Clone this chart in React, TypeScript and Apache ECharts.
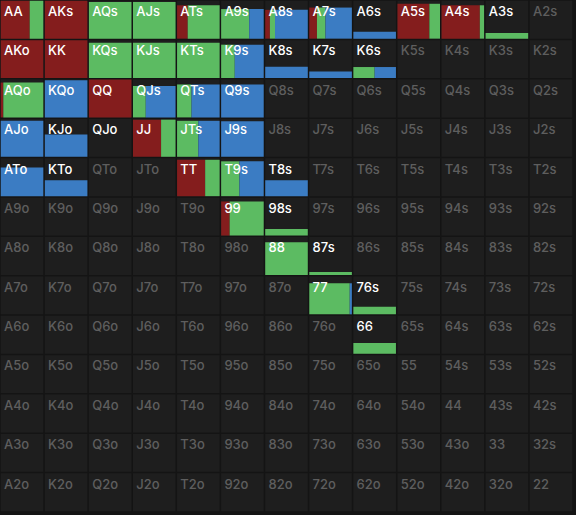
import React, { useEffect, useRef } from "react";
import * as echarts from "echarts";

const RANKS = ["A", "K", "Q", "J", "T", "9", "8", "7", "6", "5", "4", "3", "2"];

// Hands that are part of the range (white label), with their weight and action split
const rangeHands = [
  "AA", "AKs", "AQs", "AJs", "ATs", "A9s", "A8s", "A7s", "A6s", "A5s", "A4s", "A3s",
  "AKo", "KK", "KQs", "KJs", "KTs", "K9s", "K8s", "K7s", "K6s",
  "AQo", "KQo", "QQ", "QJs", "QTs", "Q9s",
  "AJo", "KJo", "QJo", "JJ", "JTs", "J9s",
  "ATo", "KTo", "TT", "T9s", "T8s",
  "99", "98s",
  "88", "87s",
  "77", "76s",
  "66",
];
const handWeight = [
  1.0, 1.0, 0.97, 0.97, 0.88, 0.78, 0.76, 0.82, 0.18, 0.92, 0.88, 0.15,
  1.0, 1.0, 0.93, 0.93, 0.93, 0.88, 0.3, 0.17, 0.29,
  0.92, 0.98, 1.0, 0.83, 0.87, 0.87,
  0.95, 0.59, 0, 0.98, 0.95, 0.94,
  0.76, 0.42, 0.96, 0.92, 0.42,
  0.9, 0.17,
  0.86, 0.08,
  0.82, 0.2,
  0.28,
];
const raiseFreq = [
  0.68, 1, 0, 0, 0.25, 0, 0.11, 0.18, 0, 0.75, 0.9, 0,
  1, 1, 0, 0, 0, 0, 0, 0, 0,
  0.06, 0, 1, 0, 0, 0,
  0, 0, 0, 0.66, 0, 0,
  0, 0, 0.66, 0, 0,
  0.2, 0,
  0, 0,
  0, 0,
  0,
];
const callFreq = [
  0.32, 0, 1, 1, 0.75, 0.66, 0.12, 0.2, 0, 0.25, 0.1, 1,
  0, 0, 1, 1, 1, 0.32, 0, 0, 0.5,
  0.94, 0, 0, 0.3, 0.34, 0,
  0, 0, 0, 0.34, 0.5, 0,
  0, 0, 0.34, 0.43, 0,
  0.8, 1,
  1, 1,
  0.95, 1,
  1,
];
const foldFreq = [
  0, 0, 0, 0, 0, 0.34, 0.77, 0.62, 1, 0, 0, 0,
  0, 0, 0, 0, 0, 0.68, 1, 1, 0.5,
  0, 1, 0, 0.7, 0.66, 1,
  1, 1, 0, 0, 0.5, 1,
  1, 1, 0, 0.57, 1,
  0, 0,
  0, 0,
  0.05, 0,
  0,
];

const COLORS = { raise: "#841d1d", call: "#5cbb62", fold: "#3b7cc3" };

function handName(r: number, c: number): string {
  if (r === c) return RANKS[r] + RANKS[c];
  if (c > r) return RANKS[r] + RANKS[c] + "s";
  return RANKS[c] + RANKS[r] + "o";
}

export default function App() {
  const ref = useRef<HTMLDivElement>(null);

  useEffect(() => {
    if (!ref.current) return;
    const chart = echarts.init(ref.current, null, { renderer: "svg" });

    const data: any[] = [];
    for (let r = 0; r < 13; r++) {
      for (let c = 0; c < 13; c++) {
        const name = handName(r, c);
        const idx = rangeHands.indexOf(name);
        if (idx >= 0) {
          data.push([c, r, handWeight[idx], raiseFreq[idx], callFreq[idx], foldFreq[idx], 1, name]);
        } else {
          data.push([c, r, 0, 0, 0, 0, 0, name]);
        }
      }
    }

    const renderItem = (params: any, api: any) => {
      const c = api.value(0);
      const r = api.value(1);
      const weight = api.value(2);
      const fr = [api.value(3), api.value(4), api.value(5)];
      const inRange = api.value(6);
      const name = data[params.dataIndex][7];
      const center = api.coord([c, r]);
      const size = api.size([1, 1]);
      const w = size[0];
      const h = size[1];
      const x0 = center[0] - w / 2;
      const y0 = center[1] - h / 2;
      const inset = 0.75;
      const ix = x0 + inset;
      const iy = y0 + inset;
      const iw = w - 2 * inset;
      const ih = h - 2 * inset;
      const children: any[] = [
        { type: "rect", shape: { x: ix, y: iy, width: iw, height: ih }, style: { fill: "#1e1e1e" } },
      ];
      const bh = ih * weight;
      if (bh > 0) {
        let cx = ix;
        const cols = [COLORS.raise, COLORS.call, COLORS.fold];
        for (let k = 0; k < 3; k++) {
          const sw = iw * fr[k];
          if (sw > 0) {
            children.push({
              type: "rect",
              shape: { x: cx, y: iy + ih - bh, width: sw, height: bh },
              style: { fill: cols[k] },
            });
            cx += sw;
          }
        }
      }
      children.push({
        type: "text",
        style: {
          text: name,
          x: x0 + 4,
          y: y0 + 4.5,
          fill: inRange ? "#ffffff" : "#5e5e5e",
          fontSize: 13,
          fontWeight: 500,
          fontFamily: "Inter, 'Noto Sans', sans-serif",
          align: "left",
          verticalAlign: "top",
        },
      });
      return { type: "group", children };
    };

    chart.setOption({
      animation: false,
      backgroundColor: "#141414",
      grid: { left: 0, top: 0, width: 573, height: 512 },
      xAxis: { type: "category", data: RANKS, show: false, boundaryGap: true },
      yAxis: { type: "category", data: RANKS, show: false, inverse: true, boundaryGap: true },
      series: [
        {
          type: "custom",
          renderItem,
          data,
          encode: { x: 0, y: 1 },
          silent: true,
        },
      ],
    });

    return () => chart.dispose();
  }, []);

  return (
    <div
      ref={ref}
      style={{ position: "absolute", left: 0, top: 0, width: 576, height: 515 }}
    />
  );
}
